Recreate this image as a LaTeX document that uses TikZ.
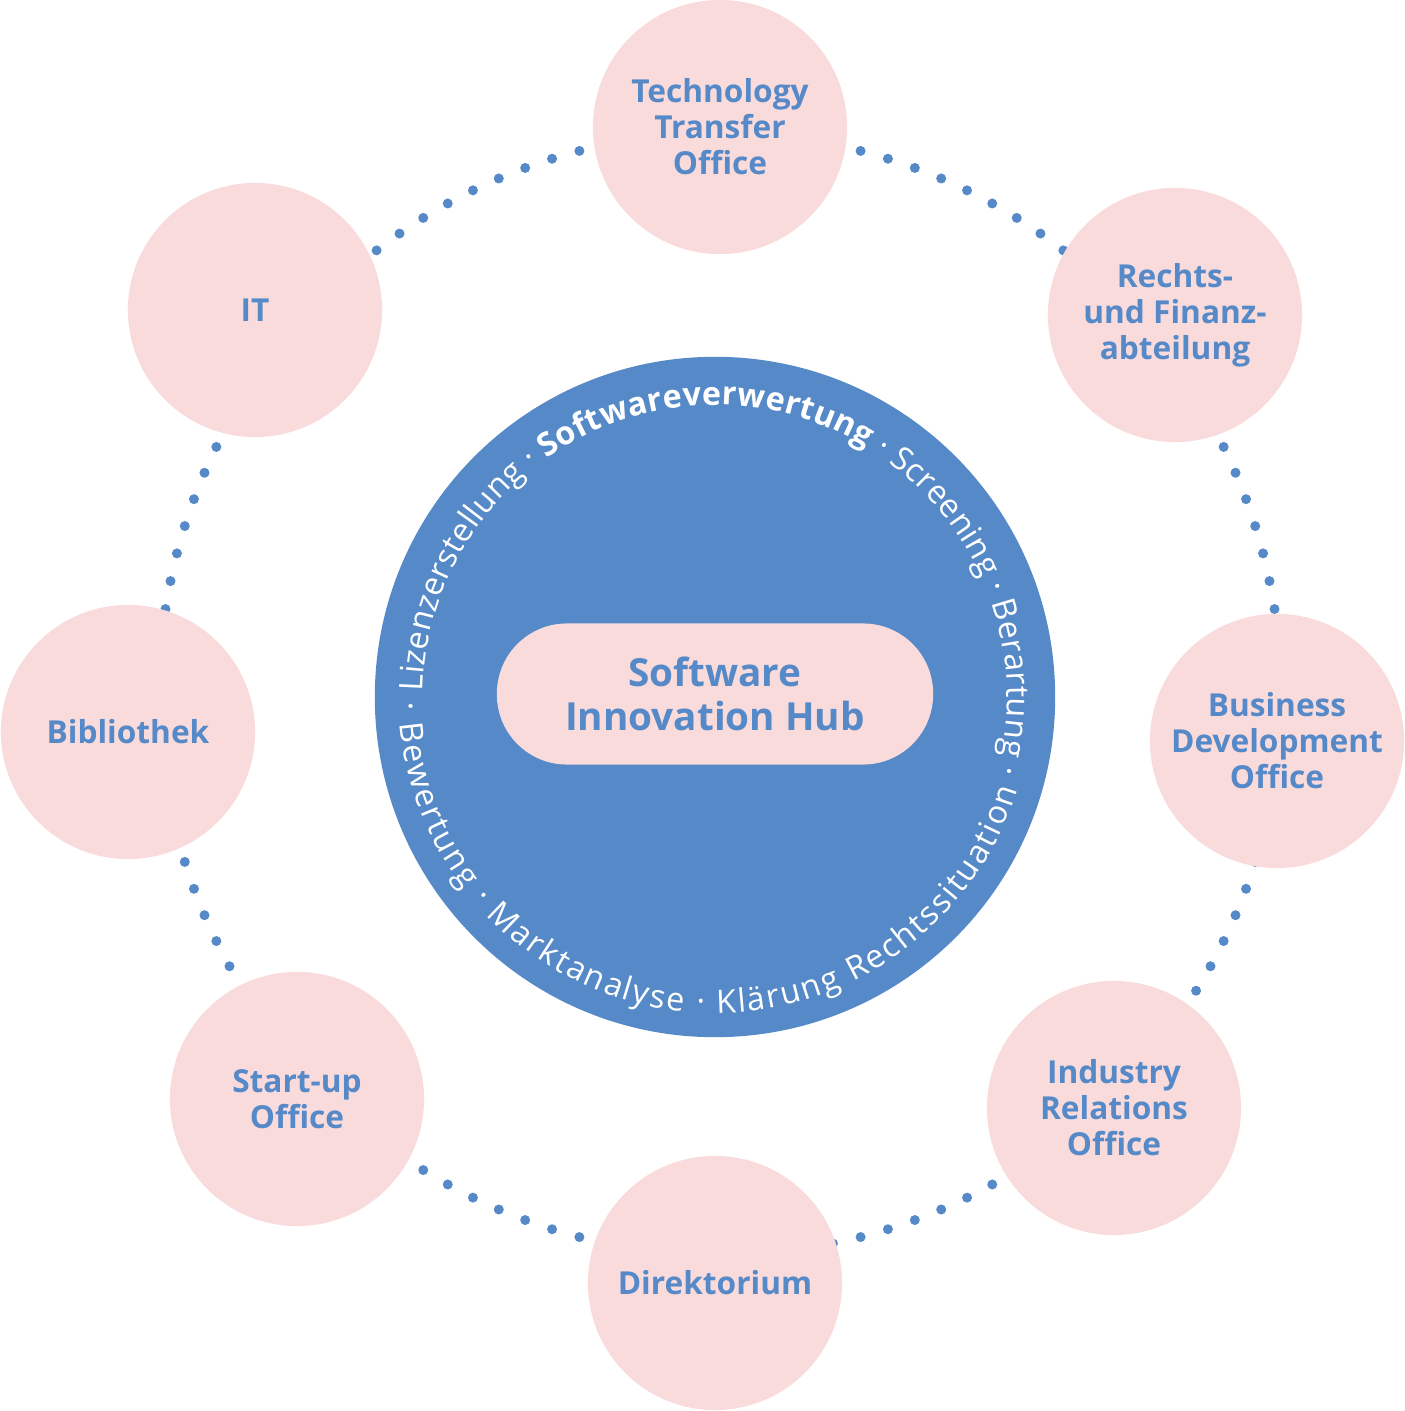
\documentclass[tikz,border=0pt]{standalone}
\usepackage{fontspec}
\setmainfont{Open Sans}
\usetikzlibrary{decorations.text}
\definecolor{hubblue}{RGB}{85,137,199}
\definecolor{unitpink}{RGB}{250,219,220}
\newcommand{\ringtxt}{\fontsize{9.2}{10}\selectfont}

\begin{document}
\begin{tikzpicture}[x=0.01cm,y=0.01cm,
  unit/.style={circle,fill=unitpink,minimum size=2.54cm,inner sep=0pt,
    align=center,text=hubblue,font=\fontsize{9}{10.2}\selectfont\bfseries},
  hubtext/.style={align=center,text=hubblue,font=\fontsize{11}{12.5}\selectfont\bfseries}]
\useasboundingbox (0,0) rectangle (1405,1411);

\coordinate (ring) at (720,717);
\foreach \k in {0,...,123}
  \fill[hubblue] (ring) ++(90+\k*2.90323:561) circle[radius=5];

\node[circle,fill=hubblue,minimum size=6.8cm,inner sep=0pt] (hub) at (715,714) {};
\node[hubtext,rectangle,rounded corners=0.7cm,fill=unitpink,
  minimum width=4.36cm,minimum height=1.41cm] (sih) at (715,717)
  {Software\\Innovation Hub};

\path[decorate,decoration={text along path,text color=white,
    text align={fit to path},
    text={|\ringtxt|Lizenzerstellung · |\ringtxt\bfseries|Softwareverwertung|\ringtxt| · Screening · Berartung ·}}]
  (hub.center) ++(179:292) arc[start angle=179,end angle=-15,radius=292];
\path[decorate,decoration={text along path,text color=white,
    text align={fit to path},
    text={|\ringtxt|· Bewertung · Marktanalyse · Klärung Rechtssituation}}]
  (hub.center) ++(181:316) arc[start angle=181,end angle=343,radius=316];

\node[unit] (tto) at (720,1284) {Technology\\Transfer\\Office};
\node[unit] (recht) at (1175,1096) {Rechts-\\und Finanz-\\abteilung};
\node[unit] (bdo) at (1277,670) {Business\\Development\\Office};
\node[unit] (iro) at (1114,303) {Industry\\Relations\\Office};
\node[unit] (dir) at (715,128) {Direktorium};
\node[unit] (suo) at (297,312) {Start-up\\Office};
\node[unit] (bib) at (128,679) {Bibliothek};
\node[unit] (it) at (255,1101) {IT};

\end{tikzpicture}
\end{document}
